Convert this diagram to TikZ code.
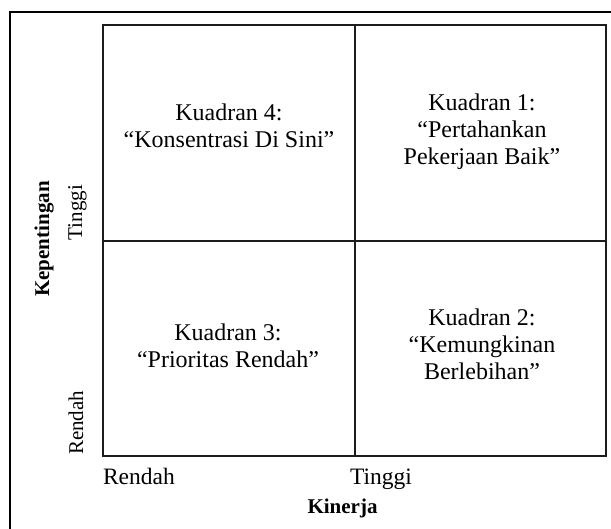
\documentclass[tikz,border=0pt]{standalone}
\usepackage{fontspec}
\setmainfont{Liberation Serif}
\definecolor{c1c1c1c}{RGB}{28,28,28}
\def \globalscale {1.000000}

\begin{document}
\begin{tikzpicture}[y=-1pt, x=1pt, yscale=\globalscale,xscale=\globalscale, every node/.append style={scale=\globalscale}, inner sep=0pt, outer sep=0pt,
  quadtext/.style={text=black,align=center,anchor=north,font=\fontsize{24}{27}\selectfont},
  axistext/.style={text=black,font=\fontsize{23.5}{27}\selectfont},
  sidetext/.style={text=black,rotate=90,font=\fontsize{21}{25}\selectfont},
  axistitle/.style={text=black,font=\fontsize{21}{25}\selectfont\bfseries}]
  \clip (0,0) rectangle (611,529);

  % frame round the whole figure
  \path[draw=black,line width=2pt] (10,560) -- (10,12) -- (640,12);

  % the four quadrants
  \coordinate (gridnw) at (103,25);
  \coordinate (gridse) at (606,456);
  \coordinate (gridmidtop) at (355,25);
  \coordinate (gridmidbot) at (355,456);
  \coordinate (gridmidleft) at (103,241);
  \coordinate (gridmidright) at (606,241);
  \path[draw=c1c1c1c,line width=1.8pt] (gridnw) rectangle (gridse);
  \path[draw=c1c1c1c,line width=1.3pt] (gridmidtop) -- (gridmidbot);
  \path[draw=c1c1c1c,line width=1.3pt] (gridmidleft) -- (gridmidright);

  \node[quadtext] (kuadran4) at (229,103.5){Kuadran 4:\\``Konsentrasi Di Sini''};
  \node[quadtext] (kuadran1) at (482,93.5){Kuadran 1:\\``Pertahankan\\Pekerjaan Baik''};
  \node[quadtext] (kuadran3) at (228,323.5){Kuadran 3:\\``Prioritas Rendah''};
  \node[quadtext] (kuadran2) at (482,308.5){Kuadran 2:\\``Kemungkinan\\Berlebihan''};

  % axis labels
  \node[axistext,anchor=base west] (kinerjalow) at (103,485){Rendah};
  \node[axistext,anchor=base west] (kinerjahigh) at (350,485){Tinggi};
  \node[axistitle,anchor=base] (kinerja) at (342.5,513){Kinerja};

  \node[sidetext,anchor=base west] (pentinglow) at (83,455){Rendah};
  \node[sidetext,anchor=base east] (pentinghigh) at (82,185){Tinggi};
  \node[axistitle,rotate=90,anchor=base] (kepentingan) at (49,239){Kepentingan};

\end{tikzpicture}
\end{document}
